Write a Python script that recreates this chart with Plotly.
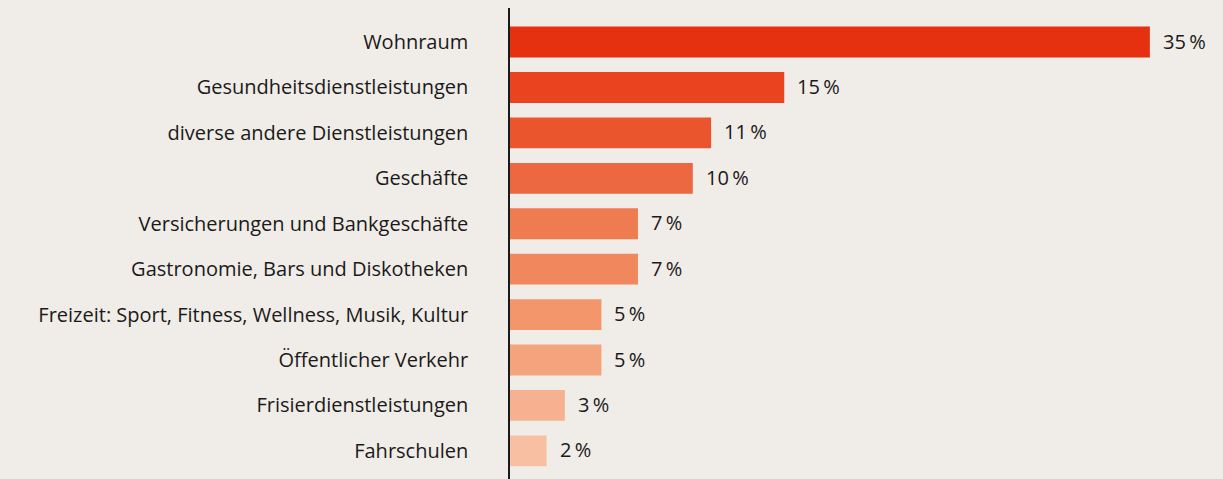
import plotly.graph_objects as go

categories = ["Wohnraum", "Gesundheitsdienstleistungen", "diverse andere Dienstleistungen",
              "Geschäfte", "Versicherungen und Bankgeschäfte", "Gastronomie, Bars und Diskotheken",
              "Freizeit: Sport, Fitness, Wellness, Musik, Kultur", "Öffentlicher Verkehr",
              "Frisierdienstleistungen", "Fahrschulen"]
values = [35, 15, 11, 10, 7, 7, 5, 5, 3, 2]
colors = ["#E5310F", "#E84420", "#EA552E", "#EC6840", "#EF7B50", "#F0875D",
          "#F3966C", "#F4A47D", "#F6B290", "#F8BFA2"]

font_family = "'Open Sans', sans-serif"
text_color = "#1a1a1a"

fig = go.Figure(go.Bar(
    x=values, y=categories, orientation="h",
    marker=dict(color=colors, line=dict(width=0)),
    hoverinfo="skip",
))

for v, c in zip(values, categories):
    fig.add_annotation(x=v, y=c, text=f"{v}\u2009%", showarrow=False,
                       xanchor="left", xshift=11, yshift=1,
                       font=dict(family=font_family, size=20, color=text_color))

fig.update_layout(
    width=1223, height=479,
    margin=dict(l=510, r=0, t=8, b=0),
    paper_bgcolor="#F0ECE7", plot_bgcolor="#F0ECE7",
    bargap=0.32,
    showlegend=False,
    xaxis=dict(range=[0, 39], showgrid=False, zeroline=False, showticklabels=False,
               showline=False, fixedrange=True),
    yaxis=dict(range=[9.62, -0.75], showgrid=False, zeroline=False,
               showline=True, linecolor="#1a1a1a", linewidth=1.5,
               ticks="", ticklabelstandoff=36, fixedrange=True,
               tickfont=dict(family=font_family, size=20, color=text_color)),
)

fig.write_html("out.html", config={"displayModeBar": False},
               post_script="document.body.style.margin='0';document.body.style.overflow='hidden';")
